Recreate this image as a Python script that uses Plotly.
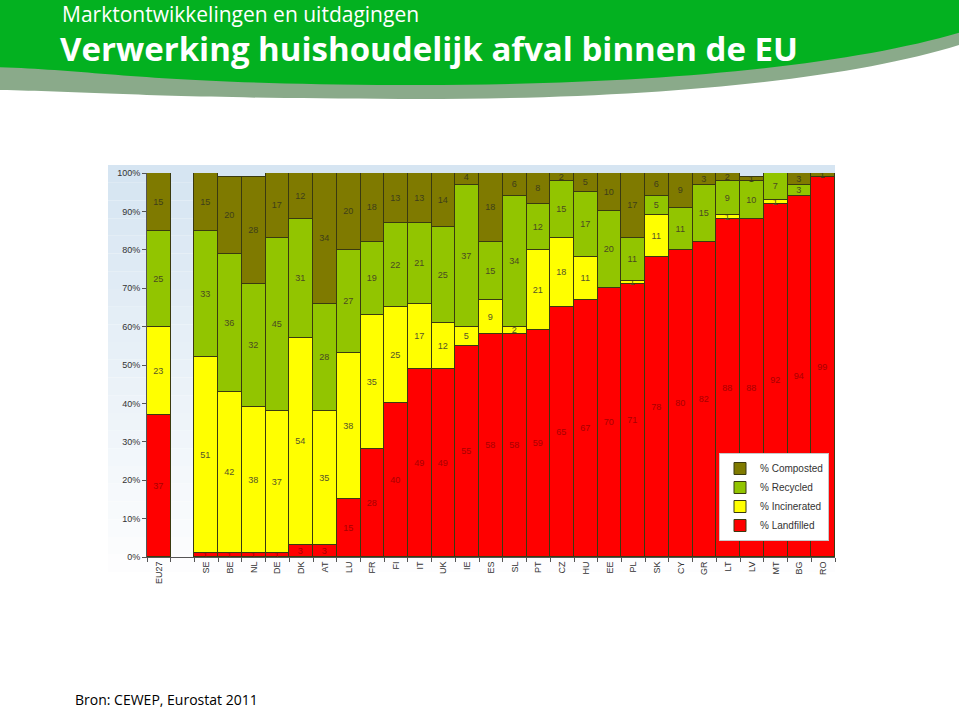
import plotly.graph_objects as go

# categories (the " " entry is the empty gap after EU27)
countries = ["EU27", " ", "SE", "BE", "NL", "DE", "DK", "AT", "LU", "FR", "FI", "IT", "UK", "IE",
             "ES", "SL", "PT", "CZ", "HU", "EE", "PL", "SK", "CY", "GR", "LT", "LV", "MT", "BG", "RO"]

landfilled = [37, None, 1, 1, 1, 1, 3, 3, 15, 28, 40, 49, 49, 55,
              58, 58, 59, 65, 67, 70, 71, 78, 80, 82, 88, 88, 92, 94, 99]
incinerated = [23, None, 51, 42, 38, 37, 54, 35, 38, 35, 25, 17, 12, 5,
               9, 2, 21, 18, 11, 0, 1, 11, 0, 0, 1, 0, 1, 0, 0]
recycled = [25, None, 33, 36, 32, 45, 31, 28, 27, 19, 22, 21, 25, 37,
            15, 34, 12, 15, 17, 20, 11, 5, 11, 15, 9, 10, 7, 3, 0]
composted = [15, None, 15, 20, 28, 17, 12, 34, 20, 18, 13, 13, 14, 4,
             18, 6, 8, 2, 5, 10, 17, 6, 9, 3, 2, 1, 0, 3, 1]

W, H = 959, 709
L, R, T, B = 147, 124, 173, 152


def px(x):
    return (x - L) / (W - L - R)


def py(y):
    return (H - B - y) / (H - T - B)


def labels(vals):
    return [str(v) if v else "" for v in vals]


series = [
    ("% Landfilled", landfilled, "#ff0000", "#a80000"),
    ("% Incinerated", incinerated, "#ffff00", "#55552a"),
    ("% Recycled", recycled, "#92c500", "#4a4a22"),
    ("% Composted", composted, "#7f7a00", "#3e3e1a"),
]

fig = go.Figure()
for name, vals, color, tcolor in series:
    fig.add_trace(go.Bar(
        x=countries, y=vals, name=name,
        marker=dict(color=color, line=dict(color="#3a3a10", width=1)),
        text=labels(vals), textposition="inside", insidetextanchor="middle",
        textfont=dict(color=tcolor, size=10, family="Liberation Sans"),
        textangle=0, hoverinfo="skip",
    ))

shapes = []
# zachte blauwe achtergrond achter de grafiek
n = 24
top, bottom = 165, 590
for i in range(n):
    y0 = top + (bottom - top) * i / n
    y1 = top + (bottom - top) * (i + 1) / n
    f = i / (n - 1)
    r = int(214 + (255 - 214) * f)
    g = int(229 + (255 - 229) * f)
    b = int(242 + (255 - 242) * f)
    shapes.append(dict(type="rect", xref="paper", yref="paper", layer="below",
                       x0=px(108), x1=px(835), y0=py(y1), y1=py(y0),
                       fillcolor=f"rgb({r},{g},{b})", line=dict(width=0)))


def pth(points):
    return " ".join(f"{c}{px(x):.4f},{py(y):.4f}" for c, x, y in points)


# grijze schaduw onder de kopbalk
shapes.append(dict(type="path", xref="paper", yref="paper", layer="below",
                   path=pth([("M", -5, -5), ("L", 965, -5), ("L", 965, 43),
                             ("C", 850, 80), ("", 650, 100), ("", 400, 99),
                             ("S", 100, 92), ("", -5, 90)]) + " Z",
                   fillcolor="#8aaa8a", line=dict(width=0)))
# groene kopbalk
shapes.append(dict(type="path", xref="paper", yref="paper", layer="below",
                   path=pth([("M", -5, -5), ("L", 965, -5), ("L", 965, 31),
                             ("C", 850, 66), ("", 650, 86), ("", 400, 85),
                             ("S", 100, 70), ("", -5, 67)]) + " Z",
                   fillcolor="#03b120", line=dict(width=0)))

annotations = [
    dict(text="Marktontwikkelingen en uitdagingen", x=px(60), y=py(14), xref="paper", yref="paper",
         xanchor="left", yanchor="middle", showarrow=False,
         font=dict(family="Open Sans", size=21, color="white")),
    dict(text="<b>Verwerking huishoudelijk afval binnen de EU</b>", x=px(58), y=py(48),
         xref="paper", yref="paper", xanchor="left", yanchor="middle", showarrow=False,
         font=dict(family="Open Sans", size=33, color="white")),
    dict(text="Bron: CEWEP, Eurostat 2011", x=px(73), y=py(699), xref="paper", yref="paper",
         xanchor="left", yanchor="middle", showarrow=False,
         font=dict(family="Open Sans", size=14, color="black")),
]

fig.update_layout(
    width=W, height=H,
    margin=dict(l=L, r=R, t=T, b=B),
    barmode="stack", bargap=0,
    paper_bgcolor="white", plot_bgcolor="rgba(0,0,0,0)",
    font=dict(family="Liberation Sans", size=9, color="#333333"),
    uniformtext=dict(minsize=9, mode="show"),
    shapes=shapes, annotations=annotations,
    legend=dict(x=px(719), y=py(453), xanchor="left", yanchor="top",
                traceorder="reversed", bgcolor="white", bordercolor="#c8c8c8", borderwidth=1,
                font=dict(family="Liberation Sans", size=10, color="#333333"),
                itemwidth=30, tracegroupgap=0),
    showlegend=True,
)
fig.update_xaxes(type="category", tickangle=-90, ticks="outside", tickson="boundaries",
                 ticklen=4, tickcolor="#555555", showline=True, linecolor="#555555",
                 showgrid=False, tickfont=dict(size=9, color="#333333"))
fig.update_yaxes(range=[0, 100], dtick=10, ticksuffix="%", ticks="outside", ticklen=4,
                 tickcolor="#555555", showline=True, linecolor="#555555", showgrid=False,
                 zeroline=False, tickfont=dict(size=9, color="#333333"))

# body-marge van de browser weghalen zodat de figuur op (0,0) staat
fig.write_html("out.html", config={"displayModeBar": False},
               post_script="document.body.style.margin='0';")
